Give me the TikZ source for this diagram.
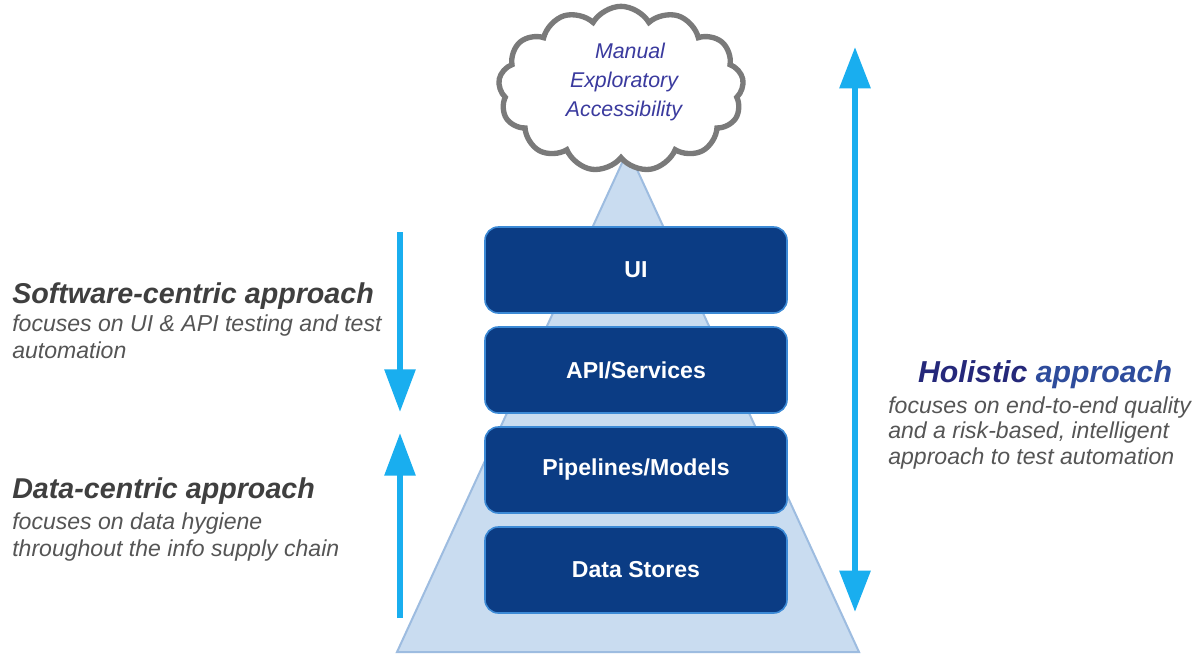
\documentclass[tikz,border=0pt]{standalone}
\usepackage{fontspec}
\setmainfont{Liberation Sans}
\usetikzlibrary{arrows.meta,shapes.symbols}
\definecolor{arrowblue}{HTML}{19AEEF}
\definecolor{boxblue}{HTML}{0B3C84}
\definecolor{boxborder}{HTML}{3C8AD6}
\definecolor{trifill}{HTML}{C9DCF0}
\definecolor{triborder}{HTML}{9DBCE0}
\definecolor{cloudgray}{HTML}{7A7A7A}
\definecolor{cloudtext}{HTML}{3A3A9E}
\definecolor{titlegray}{HTML}{3F3F3F}
\definecolor{subgray}{HTML}{555555}
\definecolor{holnavy}{HTML}{25287A}
\definecolor{holblue}{HTML}{2E4C9C}
\begin{document}
\begin{tikzpicture}[x=0.75pt,y=-0.75pt,
  pyr/.style={fill=trifill, draw=triborder, line width=1.5pt, line join=miter},
  cloudshape/.style={cloud, cloud puffs=13, cloud puff arc=120, aspect=1.5, draw=cloudgray, line width=4pt, fill=white, minimum width=184pt, minimum height=124pt, inner sep=0pt},
  cloudtxt/.style={anchor=base, inner sep=0pt, text=cloudtext, font=\itshape\fontsize{16}{18}\selectfont},
  layer/.style={draw=boxborder, line width=1.2pt, fill=boxblue, rounded corners=10pt, minimum width=226.5pt, minimum height=64.5pt, text=white, font=\bfseries\fontsize{17.3}{19}\selectfont},
  arr/.style={draw=arrowblue, line width=4.5pt, -{Triangle[width=22.5pt,length=32pt]}},
  darr/.style={draw=arrowblue, line width=4.5pt, {Triangle[width=22.5pt,length=31pt]}-{Triangle[width=22.5pt,length=31pt]}},
  ttl/.style={anchor=base west, inner sep=0pt, text=titlegray, font=\bfseries\itshape\fontsize{21.5}{24}\selectfont},
  sub/.style={anchor=base west, inner sep=0pt, text=subgray, font=\itshape\fontsize{17.3}{20}\selectfont}]
\useasboundingbox (0,0) rectangle (1201,657);
\fill[white] (0,0) rectangle (1201,657);
% pyramid
\coordinate (apex) at (628,150);
\coordinate (bl) at (397,652);
\coordinate (br) at (859,652);
\draw[pyr] (apex) -- (bl) -- (br) -- cycle;
% cloud
\node[cloudshape] (cloud) at (621,89) {};
\node[cloudtxt] (c1) at (630,58) {Manual};
\node[cloudtxt] (c2) at (624,87) {Exploratory};
\node[cloudtxt] (c3) at (624,116) {Accessibility};
% layers
\node[layer] (ui) at (636,270) {UI};
\node[layer] (api) at (636,370) {API/Services};
\node[layer] (pipe) at (636,470) {Pipelines/Models};
\node[layer] (data) at (636,570) {Data Stores};
% arrows
\coordinate (sdA) at (400,232);
\coordinate (sdB) at (400,412);
\coordinate (dcA) at (400,618);
\coordinate (dcB) at (400,433);
\coordinate (hA) at (855,47);
\coordinate (hB) at (855,612);
\draw[arr] (sdA) -- (sdB);
\draw[arr] (dcA) -- (dcB);
\draw[darr] (hA) -- (hB);
% left texts
\node[ttl] (swt) at (12,303) {Software-centric approach};
\node[sub] (sw1) at (12,331) {focuses on UI \& API testing and test};
\node[sub] (sw2) at (12,358) {automation};
\node[ttl] (dct) at (12,498) {Data-centric approach};
\node[sub] (dc1) at (12,529) {focuses on data hygiene};
\node[sub] (dc2) at (12,556) {throughout the info supply chain};
% right texts
\node[anchor=base, inner sep=0pt, font=\bfseries\itshape\fontsize{22.7}{26}\selectfont] (hol) at (1045,382) {\textcolor{holnavy}{Holistic} \textcolor{holblue}{approach}};
\node[sub] (h1) at (888,413) {focuses on end-to-end quality};
\node[sub] (h2) at (888,438) {and a risk-based, intelligent};
\node[sub] (h3) at (888,464) {approach to test automation};
\end{tikzpicture}
\end{document}
